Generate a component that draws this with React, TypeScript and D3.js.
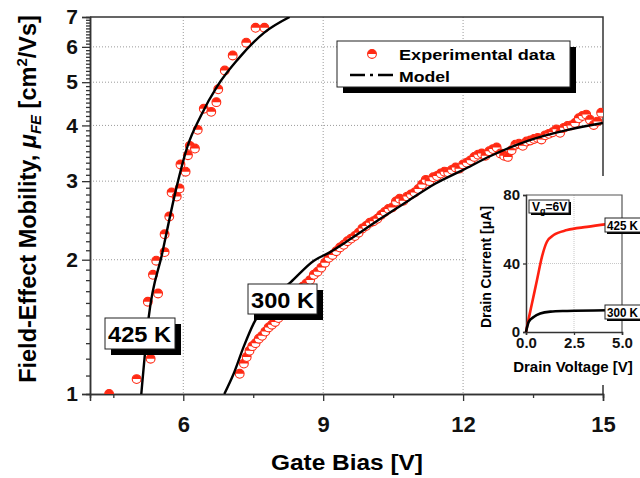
import React, { useEffect, useRef } from 'react';
import * as d3 from 'd3';

// 425 K measured field-effect mobility (gate bias [V] / mobility [cm2/Vs])
const exp425Vg = [4.41, 5.0, 5.3, 5.24, 5.46, 5.35, 5.42, 5.6, 5.6, 5.7, 5.75, 5.86, 5.92, 5.94, 6.05, 6.1, 6.14, 6.25, 6.31, 6.44, 6.6, 6.71, 6.75, 6.89, 7.06, 7.35, 7.55, 7.74];
const exp425Mu = [1.0, 1.08, 1.2, 1.61, 1.68, 1.85, 1.99, 2.08, 2.28, 2.5, 2.83, 2.77, 2.89, 3.27, 3.15, 3.43, 3.6, 3.55, 3.91, 4.36, 4.29, 4.51, 4.82, 5.31, 5.74, 6.13, 6.62, 6.62];

// 300 K measured field-effect mobility
const exp300Vg = [
  7.21, 7.3, 7.36, 7.42, 7.48, 7.55, 7.62, 7.69, 7.76, 7.83, 7.9, 7.97, 8.04, 8.11, 8.18, 8.25, 8.32, 8.4, 8.48, 8.56,
  8.64, 8.72, 8.8, 8.88, 8.96, 9.04, 9.12, 9.2, 9.28, 9.36, 9.44, 9.52, 9.6, 9.68, 9.76, 9.84, 9.92, 10.0, 10.08, 10.16,
  10.24, 10.32, 10.4, 10.48, 10.56, 10.64, 10.72, 10.8, 10.88, 10.96, 11.04, 11.12, 11.2, 11.28, 11.36, 11.44, 11.52, 11.6, 11.68, 11.76,
  11.84, 11.92, 12.0, 12.08, 12.16, 12.24, 12.32, 12.4, 12.48, 12.56, 12.64, 12.72, 12.8, 12.88, 12.96, 13.04, 13.12, 13.2, 13.28, 13.36,
  13.44, 13.52, 13.6, 13.68, 13.76, 13.84, 13.92, 14.0, 14.08, 14.16, 14.24, 14.32, 14.4, 14.48, 14.56, 14.64, 14.72, 14.8, 14.88, 14.96,
];
const exp300Mu = [
  1.11, 1.17, 1.21, 1.25, 1.28, 1.3, 1.33, 1.35, 1.38, 1.41, 1.43, 1.45, 1.48, 1.51, 1.54, 1.58, 1.62, 1.66, 1.7, 1.74,
  1.77, 1.8, 1.85, 1.88, 1.92, 1.97, 2.02, 2.05, 2.09, 2.13, 2.16, 2.2, 2.23, 2.26, 2.3, 2.35, 2.38, 2.42, 2.44, 2.47,
  2.52, 2.56, 2.6, 2.62, 2.7, 2.74, 2.71, 2.77, 2.8, 2.83, 2.88, 2.95, 3.02, 3.0, 3.06, 3.08, 3.12, 3.15, 3.14, 3.18,
  3.22, 3.2, 3.27, 3.3, 3.34, 3.4, 3.44, 3.46, 3.42, 3.5, 3.54, 3.57, 3.46, 3.42, 3.4, 3.52, 3.62, 3.64, 3.6, 3.68,
  3.7, 3.73, 3.75, 3.72, 3.8, 3.83, 3.86, 3.92, 3.85, 3.95, 3.99, 4.0, 4.05, 4.15, 4.2, 4.23, 4.12, 4.01, 4.08, 4.27,
];

// model curves
const model425Vg = [5.1, 5.26, 5.55, 5.86, 6.09, 6.37, 6.73, 7.16, 7.73, 8.28];
const model425Mu = [1.0, 1.49, 2.07, 2.92, 3.59, 4.19, 4.9, 5.61, 6.45, 7.0];
const model300Vg = [6.88, 7.08, 7.3, 7.51, 7.87, 8.3, 8.8, 9.15, 9.6, 10.2, 10.8, 11.4, 12.0, 12.6, 13.4, 14.2, 15.0];
const model300Mu = [1.0, 1.11, 1.28, 1.44, 1.63, 1.78, 1.99, 2.08, 2.23, 2.46, 2.7, 2.96, 3.18, 3.42, 3.7, 3.9, 4.05];

const xTicks = [6, 9, 12, 15];
const xMinorTicks = [4.5, 7.5, 10.5, 13.5];
const yTicks = [1, 2, 3, 4, 5, 6, 7];

// inset: drain current vs drain voltage at Vg = 6 V
const insetVd425 = [0, 0.05, 0.31, 0.57, 0.83, 1.09, 1.44, 2.14, 3.18, 4.22];
const insetId425 = [0, 2.9, 16.6, 30.2, 43.9, 52.7, 56.6, 59.5, 61.4, 63.0];
const insetVd300 = [0, 0.14, 0.4, 0.74, 1.27, 2.14, 4.22];
const insetId300 = [0, 5.9, 8.8, 10.8, 11.9, 12.3, 12.7];
const insetXTicks = [0, 2.5, 5];
const insetYTicks = [0, 40, 80];

const App = () => {
  const ref = useRef<SVGSVGElement>(null);

  useEffect(() => {
    const svg = d3.select(ref.current);
    svg.selectAll('*').remove();

    const W = 640;
    const H = 478;
    const m = { left: 90, right: 603, top: 17, bottom: 394 };
    const font = "'Liberation Sans', Arial, sans-serif";
    const red = '#ff2a14';
    const axisCol = '#333';

    const x = d3.scaleLinear().domain([4, 15]).range([m.left, m.right]);
    const y = d3.scaleLog().domain([1, 7]).range([m.bottom, m.top]);

    svg.append('rect').attr('width', W).attr('height', H).attr('fill', '#fff');

    // dotted grid
    const grid = svg.append('g').attr('stroke', '#9a9a9a').attr('stroke-dasharray', '1,2');
    [6, 9, 12].forEach((v) =>
      grid.append('line').attr('x1', x(v)).attr('x2', x(v)).attr('y1', m.top).attr('y2', m.bottom)
    );
    [2, 3, 4, 5, 6].forEach((v) =>
      grid.append('line').attr('x1', m.left).attr('x2', m.right).attr('y1', y(v)).attr('y2', y(v))
    );

    // frame top & right
    svg.append('path')
      .attr('d', `M${m.left},${m.top}H${m.right}V${m.bottom}`)
      .attr('fill', 'none').attr('stroke', axisCol).attr('stroke-width', 1.5);

    const styleAxis = (g, size) => {
      g.selectAll('.domain').attr('stroke', axisCol).attr('stroke-width', 1.5);
      g.selectAll('.tick line').attr('stroke', axisCol).attr('stroke-width', 1.3);
      g.selectAll('text').attr('font-family', font).attr('font-weight', 'bold')
        .attr('font-size', size).attr('fill', '#111');
      g.attr('font-family', null).attr('font-size', null);
    };

    // y axis, minor then major
    const yMinor = d3.range(1.1, 6.95, 0.1).filter((v) => Math.abs(v - Math.round(v)) > 0.01);
    svg.append('g').attr('transform', `translate(${m.left},0)`)
      .call(d3.axisLeft(y).tickValues(yMinor).tickSize(4).tickFormat(() => ''))
      .call((g) => styleAxis(g, 21));
    svg.append('g').attr('transform', `translate(${m.left},0)`)
      .call(d3.axisLeft(y).tickValues(yTicks).tickSize(8).tickPadding(4).tickFormat(d3.format('d')))
      .call((g) => styleAxis(g, 21));

    // x axis
    svg.append('g').attr('transform', `translate(0,${m.bottom})`)
      .call(d3.axisBottom(x).tickValues(xMinorTicks).tickSize(4).tickFormat(() => ''))
      .call((g) => styleAxis(g, 22));
    svg.append('g').attr('transform', `translate(0,${m.bottom})`)
      .call(d3.axisBottom(x).tickValues(xTicks).tickSize(7).tickPadding(15).tickFormat(d3.format('d')))
      .call((g) => styleAxis(g, 22));

    // axis titles
    svg.append('text')
      .attr('x', 347).attr('y', 470).attr('text-anchor', 'middle')
      .attr('font-family', font).attr('font-weight', 'bold').attr('font-size', 22)
      .attr('textLength', 152).attr('lengthAdjust', 'spacingAndGlyphs')
      .text('Gate Bias [V]');

    const yt = svg.append('text')
      .attr('transform', 'translate(36,199) rotate(-90)')
      .attr('text-anchor', 'middle')
      .attr('font-family', font).attr('font-weight', 'bold').attr('font-size', 23.5);
    yt.append('tspan').text('Field-Effect Mobility,  ');
    yt.append('tspan').attr('font-style', 'italic').text('\u03bc');
    yt.append('tspan').attr('font-style', 'italic').attr('font-size', 15).attr('dy', 5).text('FE');
    yt.append('tspan').attr('dy', -5).text(' [cm');
    yt.append('tspan').attr('font-size', 15).attr('dy', -9).text('2');
    yt.append('tspan').attr('dy', 9).text('/Vs]');

    // plot contents
    svg.append('clipPath').attr('id', 'plotClip')
      .append('rect').attr('x', m.left).attr('y', m.top)
      .attr('width', m.right - m.left).attr('height', m.bottom - m.top);
    const plot = svg.append('g').attr('clip-path', 'url(#plotClip)');

    const drawMarker = (g, cx, cy, r) => {
      const mk = g.append('g').attr('transform', `translate(${cx},${cy})`);
      mk.append('circle').attr('r', r).attr('fill', '#fff').attr('stroke', red).attr('stroke-width', 1.1);
      mk.append('path').attr('d', `M${-r},0A${r},${r} 0 0 1 ${r},0Z`).attr('fill', red);
    };

    exp300Vg.forEach((v, i) => drawMarker(plot, x(v), y(exp300Mu[i]), 4.4));
    exp425Vg.forEach((v, i) => drawMarker(plot, x(v), y(exp425Mu[i]), 4.4));

    const mLine = d3.line<number>().curve(d3.curveMonotoneX);
    const pts = (vs, ms) => vs.map((v, i) => [x(v), y(ms[i])] as [number, number]);
    plot.append('path').attr('d', mLine(pts(model425Vg, model425Mu) as any))
      .attr('fill', 'none').attr('stroke', '#000').attr('stroke-width', 2.4);
    plot.append('path').attr('d', mLine(pts(model300Vg, model300Mu) as any))
      .attr('fill', 'none').attr('stroke', '#000').attr('stroke-width', 2.4);

    // boxed labels with shadow
    const boxLabel = (bx, by, bw, bh, off, txt, size, tx, ty, tl) => {
      svg.append('rect').attr('x', bx + off).attr('y', by + off).attr('width', bw).attr('height', bh).attr('fill', '#000');
      svg.append('rect').attr('x', bx).attr('y', by).attr('width', bw).attr('height', bh)
        .attr('fill', '#fff').attr('stroke', '#222').attr('stroke-width', 1);
      const t = svg.append('text').attr('x', tx).attr('y', ty)
        .attr('font-family', font).attr('font-weight', 'bold').attr('font-size', size).text(txt);
      if (tl) t.attr('textLength', tl).attr('lengthAdjust', 'spacingAndGlyphs');
      return t;
    };
    boxLabel(105, 318, 70, 31, 6, '425 K', 22, 108, 342, 63);
    boxLabel(248, 284, 69, 30, 6, '300 K', 22, 251, 308, 63);

    // legend
    svg.append('rect').attr('x', 343).attr('y', 47).attr('width', 233).attr('height', 46).attr('fill', '#000');
    svg.append('rect').attr('x', 337).attr('y', 41).attr('width', 233).attr('height', 46)
      .attr('fill', '#fff').attr('stroke', '#222').attr('stroke-width', 1);
    drawMarker(svg, 372, 54, 4.4);
    svg.append('line').attr('x1', 350).attr('x2', 393).attr('y1', 75).attr('y2', 75)
      .attr('stroke', '#000').attr('stroke-width', 2.5).attr('stroke-dasharray', '15,5,3,5');
    svg.append('text').attr('x', 399).attr('y', 60)
      .attr('font-family', font).attr('font-weight', 'bold').attr('font-size', 15.5)
      .attr('textLength', 156).attr('lengthAdjust', 'spacingAndGlyphs').text('Experimental data');
    svg.append('text').attr('x', 399).attr('y', 82)
      .attr('font-family', font).attr('font-weight', 'bold').attr('font-size', 15.5)
      .attr('textLength', 51).attr('lengthAdjust', 'spacingAndGlyphs').text('Model');

    // inset
    svg.append('rect').attr('x', 466).attr('y', 176).attr('width', W - 466).attr('height', 209).attr('fill', '#fff');
    const ix = d3.scaleLinear().domain([0, 5]).range([526, 622]);
    const iy = d3.scaleLinear().domain([0, 80]).range([332, 195]);

    const ig = svg.append('g').attr('stroke', '#c8c8c8').attr('stroke-dasharray', '1,1');
    ig.append('line').attr('x1', ix(2.5)).attr('x2', ix(2.5)).attr('y1', iy(80)).attr('y2', iy(0));
    ig.append('line').attr('x1', ix(0)).attr('x2', ix(5)).attr('y1', iy(40)).attr('y2', iy(40));

    svg.append('path').attr('d', `M${ix(0)},${iy(80)}H${ix(5)}V${iy(0)}`)
      .attr('fill', 'none').attr('stroke', '#555').attr('stroke-width', 1.2);

    svg.append('g').attr('transform', `translate(${ix(0)},0)`)
      .call(d3.axisLeft(iy).tickValues(insetYTicks).tickSize(3).tickPadding(3).tickFormat(d3.format('d')))
      .call((g) => styleAxis(g, 15));
    svg.append('g').attr('transform', `translate(0,${iy(0)})`)
      .call(d3.axisBottom(ix).tickValues(insetXTicks).tickSize(3).tickPadding(2).tickFormat(d3.format('.1f')))
      .call((g) => styleAxis(g, 15));

    const iLine = d3.line<number>().curve(d3.curveMonotoneX);
    const ipts = (vs, is) => vs.map((v, i) => [ix(v), iy(is[i])] as [number, number]);
    svg.append('path').attr('d', iLine(ipts(insetVd425, insetId425) as any))
      .attr('fill', 'none').attr('stroke', '#ff2010').attr('stroke-width', 2.6);
    svg.append('path').attr('d', iLine(ipts(insetVd300, insetId300) as any))
      .attr('fill', 'none').attr('stroke', '#000').attr('stroke-width', 2.6);

    svg.append('text').attr('x', 573).attr('y', 372).attr('text-anchor', 'middle')
      .attr('font-family', font).attr('font-weight', 'bold').attr('font-size', 15)
      .text('Drain Voltage [V]');
    svg.append('text').attr('transform', 'translate(491,267) rotate(-90)').attr('text-anchor', 'middle')
      .attr('font-family', font).attr('font-weight', 'bold').attr('font-size', 14)
      .text('Drain Current [\u03bcA]');

    const vg = boxLabel(529, 200, 40, 13, 2, '', 12, 532, 211, 0);
    vg.append('tspan').text('V');
    vg.append('tspan').attr('font-size', 9).attr('dy', 3).text('g');
    vg.append('tspan').attr('dy', -3).text('=6V');
    boxLabel(605, 218, 38, 14, 2, '425 K', 12, 607, 229.5, 31);
    boxLabel(605, 305, 38, 14, 2, '300 K', 12, 607, 316.5, 31);
  }, []);

  return (
    <svg ref={ref} width={640} height={478} style={{ position: 'absolute', left: 0, top: 0 }} />
  );
};

export default App;
